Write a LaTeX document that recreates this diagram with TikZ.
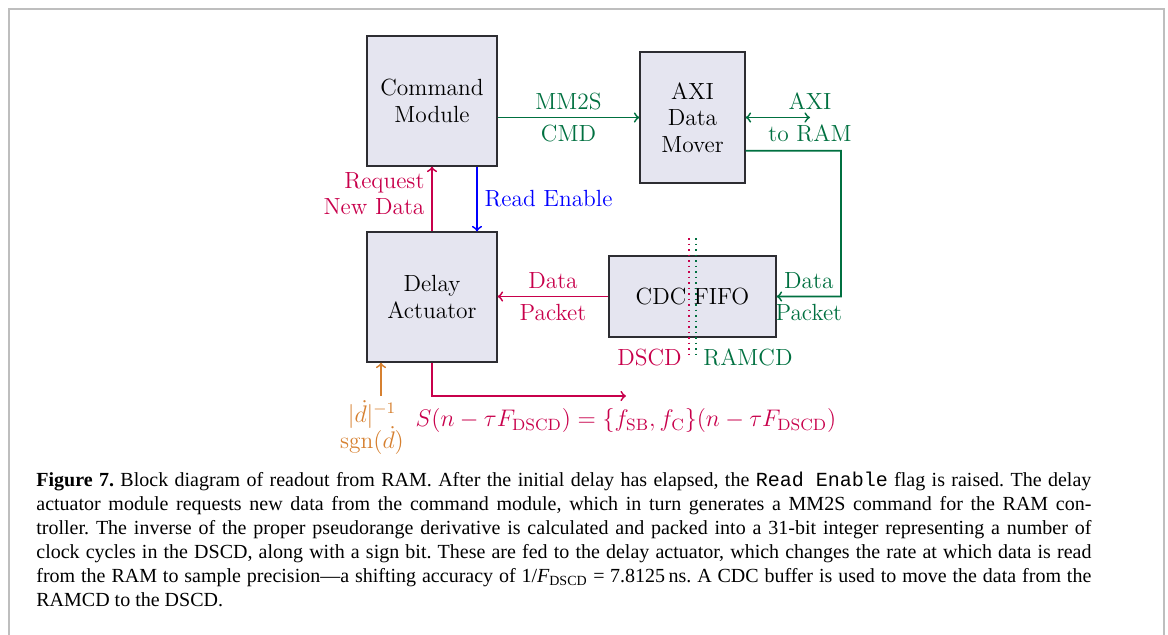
\documentclass[tikz,border=0pt]{standalone}
\usepackage{fontspec}
\newfontfamily\capfont{Liberation Serif}
\newfontfamily\capmono{Liberation Mono}
\usetikzlibrary{calc}

\definecolor{boxfill}{RGB}{229,229,240}
\definecolor{boxline}{RGB}{45,45,50}
\definecolor{sigred}{RGB}{200,0,75}
\definecolor{siggreen}{RGB}{0,112,64}
\definecolor{sigblue}{RGB}{0,0,255}
\definecolor{sigorange}{RGB}{214,128,48}
\definecolor{framegray}{RGB}{190,190,190}

\tikzset{
  blk/.style={draw=boxline, fill=boxfill, line width=0.6pt, align=center, inner sep=0pt},
  sig/.style={line width=0.9pt, ->},
  clockdom/.style={dotted, line width=0.75pt},
  capline/.style={anchor=base west, inner sep=0pt, font=\capfont\fontsize{10}{12}\selectfont\frenchspacing},
}

\begin{document}
\begin{tikzpicture}[x=0.5pt, y=-0.5pt, font=\fontsize{11.7}{13.3}\selectfont]
\useasboundingbox (0,0) rectangle (1168,634);

% page frame
\begin{scope}
  \clip (0,0) rectangle (1168,634);
  \draw[framegray, line width=1pt] (9,9) rectangle (1164,660);
\end{scope}

% blocks
\node[blk, minimum width=65pt, minimum height=65pt] (cmd) at (432,101) {Command\\Module};
\node[blk, minimum width=52.5pt, minimum height=65.5pt] (mover) at (692.5,117.5) {AXI\\Data\\Mover};
\node[blk, minimum width=65pt, minimum height=65pt] (act) at (432,297) {Delay\\Actuator};
\node[blk, minimum width=83.5pt, minimum height=40.5pt] (fifo) at (692.5,296.5) {CDC FIFO};

% free ends
\coordinate (ram) at (810,117.5);
\coordinate (bend) at (841,150.7);
\coordinate (din) at (381,396);
\coordinate (sout) at (626,396);
\coordinate (dsT) at (689,238);
\coordinate (dsB) at (689,357);
\coordinate (rmT) at (696,238);
\coordinate (rmB) at (696,357);

% command path
\draw[sig, siggreen] (cmd.east |- mover.west) -- (mover.west)
  node[midway, above] {MM2S} node[midway, below] {CMD};
\draw[line width=0.9pt, <->, siggreen] (mover.east) -- (ram)
  node[above] {AXI} node[below] {to RAM};
\draw[sig, siggreen] ([yshift=-16.6pt]mover.east) -- (bend) |- (fifo.east)
  node[pos=0.75, above] {Data} node[pos=0.75, below] {Packet};
\draw[sig, sigred] (fifo.west) -- (fifo.west -| act.east)
  node[midway, above] {Data} node[midway, below] {Packet};

% handshake
\draw[sig, sigred] (act.north) -- (cmd.south)
  node[midway, left, align=right, yshift=2.75pt] {Request\\New Data};
\draw[sig, sigblue] ([xshift=22.5pt]cmd.south) -- ([xshift=22.5pt]act.north)
  node[midway, right] {Read Enable};

% clock domain crossing
\draw[clockdom, sigred] (dsT) -- (dsB) node[left] {DSCD};
\draw[clockdom, siggreen] (rmT) -- (rmB) node[right] {RAMCD};

% delay input and sample output
\draw[sig, sigorange] (din) -- (din |- act.south);
\node[sigorange, below, align=center, xshift=-4.5pt, inner sep=2pt] (dlab) at (din)
  {$|\dot d|^{-1}$\\[-2pt]$\mathrm{sgn}(\dot d)$};
\draw[sig, sigred] (act.south) |- (sout)
  node[below, yshift=-2.5pt] {$S(n-\tau F_{\mathrm{DSCD}}) = \{f_{\mathrm{SB}}, f_{\mathrm{C}}\}(n-\tau F_{\mathrm{DSCD}})$};

% caption
\node[capline] (c1) at (36,486.5) {\makebox[527.5pt][s]{{\bfseries Figure 7.} Block diagram of readout from RAM. After the initial delay has elapsed, the {\capmono Read\kern0.6em Enable} flag is raised. The delay}};
\node[capline] (c2) at (36,510.5) {\makebox[527.5pt][s]{actuator module requests new data from the command module, which in turn generates a MM2S command for the RAM con-}};
\node[capline] (c3) at (36,534.5) {\makebox[527.5pt][s]{troller. The inverse of the proper pseudorange derivative is calculated and packed into a 31-bit integer representing a number of}};
\node[capline] (c4) at (36,558.5) {\makebox[527.5pt][s]{clock cycles in the DSCD, along with a sign bit. These are fed to the delay actuator, which changes the rate at which data is read}};
\node[capline] (c5) at (36,582.5) {\makebox[527.5pt][s]{from the RAM to sample precision\textemdash a shifting accuracy of 1/{\itshape F}\textsubscript{DSCD}\kern0.28em=\kern0.28em7.8125\kern0.17em ns. A CDC buffer is used to move the data from the}};
\node[capline] (c6) at (36,606.5) {RAMCD to the DSCD.};
\end{tikzpicture}
\end{document}
